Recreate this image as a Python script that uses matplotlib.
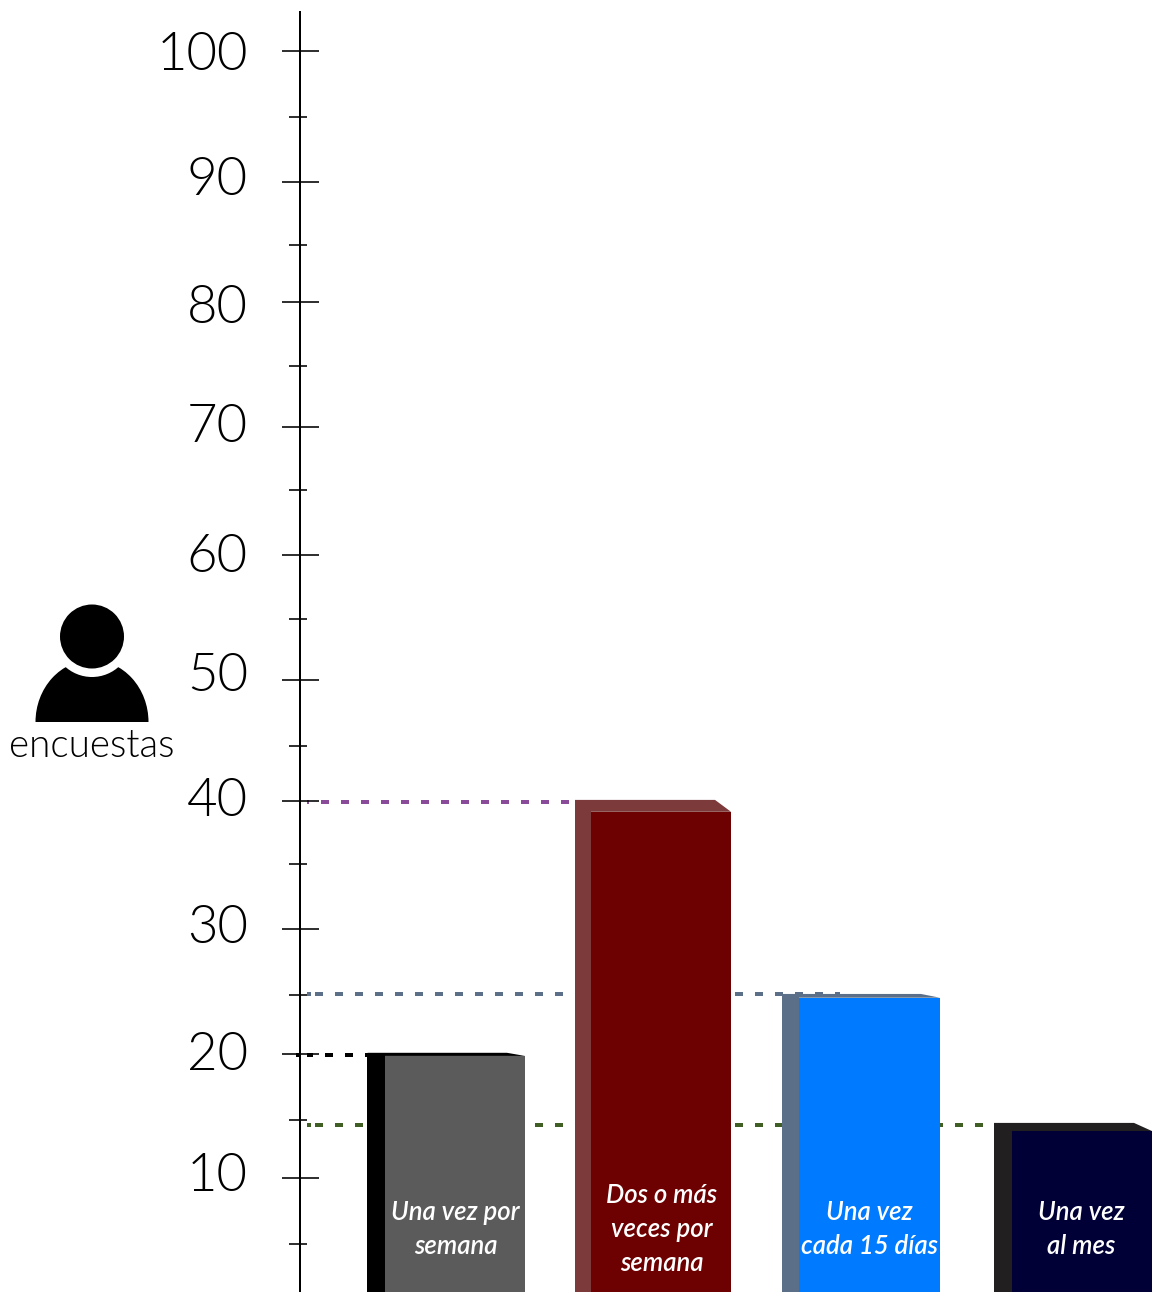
import matplotlib
matplotlib.use("Agg")
import matplotlib.pyplot as plt
from matplotlib import font_manager as fm
from matplotlib.patches import Circle, Ellipse

# survey counts per answer
categories = ["Una vez por\nsemana", "Dos o más\nveces por\nsemana", "Una vez\ncada 15 días", "Una vez\nal mes"]
bar_values = [20.0, 40.2, 24.7, 14.4]
front_values = [19.75, 39.25, 24.4, 13.75]
guide_values = [19.85, 40.05, 24.7, 14.27]

major_ticks = [100.0, 89.55, 79.97, 69.98, 59.76, 49.78, 40.11, 29.89, 19.9, 10.0]
minor_ticks = [94.74, 84.52, 74.86, 64.95, 54.65, 44.5, 35.08, 24.62, 14.63, 4.73]
tick_labels = ["100", "90", "80", "70", "60", "50", "40", "30", "20", "10"]
tick_label_pos = [99.62, 89.71, 79.41, 69.98, 59.6, 50.02, 40.1, 29.89, 19.82, 10.08]

# bar geometry in pixels across the figure
bar_left = [367, 575, 782, 994]
bar_side = [385, 591, 799, 1012]
bar_back = [507, 715, 921, 1134]
bar_right = [525, 731, 940, 1152]
front_colors = ["#5b5b5b", "#6d0000", "#007aff", "#000037"]
side_colors = ["#000000", "#7c3a3a", "#5b7088", "#221f20"]

guide_ends = [367, 575, 840, 985]
guide_colors = ["#000000", "#8a4a9a", "#5b7088", "#3f5f25"]
guide_offsets = [2, 6, 12, 12]
guide_tips = [(296, 300), None, (307, 311), (307, 311)]

label_x = [455.5, 661.5, 869.5, 1081.5]
label_center = 5.9

PX = 0.72  # one pixel in points at dpi 100

# Lato's light cut has to be picked by file, the weight lookup lands on hairline
light_path = [f.fname for f in fm.fontManager.ttflist if f.fname.endswith("Lato-Light.ttf")]
if light_path:
    light = fm.FontProperties(fname=light_path[0])
else:
    light = fm.FontProperties(family="Open Sans", weight=300)

plt.rcParams["lines.scale_dashes"] = False

fig = plt.figure(figsize=(11.7, 12.92), dpi=100)
ax = fig.add_axes([0, 0, 1, 1])
ax.set_xlim(0, 1170)
ax.set_ylim(10 + (1178 - 1292) / 12.52, 10 + 1178 / 12.52)
ax.patch.set_visible(False)

# dashed guides behind the bars
for end, val, col, off, tip in zip(guide_ends, guide_values, guide_colors, guide_offsets, guide_tips):
    ax.plot([307, end], [val, val], color=col, lw=4 * PX, zorder=1,
            linestyle=(off * PX, (8 * PX, 12 * PX)), dash_capstyle="butt")
    if tip:
        ax.plot(tip, [val, val], color=col, lw=4 * PX, zorder=1, solid_capstyle="butt")

for i in range(len(categories)):
    top = bar_values[i]
    front = front_values[i]
    ax.bar(bar_left[i], top, width=bar_side[i] - bar_left[i], align="edge",
           color=side_colors[i], zorder=2)
    ax.fill([bar_left[i], bar_back[i], bar_right[i], bar_side[i]],
            [top, top, front, front], color=side_colors[i], lw=0, zorder=2)
    ax.bar(bar_side[i], front, width=bar_right[i] - bar_side[i], align="edge",
           color=front_colors[i], zorder=3)
    ax.text(label_x[i], label_center, categories[i], color="white", fontsize=18.5,
            family="Lato", style="italic", weight="semibold", ha="center", va="center",
            linespacing=1.44, zorder=4)

# y axis with long and short ticks
for side in ["top", "right", "bottom"]:
    ax.spines[side].set_visible(False)
ax.spines["left"].set_position(("data", 300))
ax.spines["left"].set_linewidth(2 * PX)
ax.spines["left"].set_bounds(ax.get_ylim()[0], 10 + (1178 - 12) / 12.52)
ax.set_xticks([])
ax.set_yticks(major_ticks, labels=[])
ax.tick_params(axis="y", which="major", direction="inout", length=37 * PX, width=1.6 * PX)
ax.hlines(minor_ticks, 289, 307, color="black", lw=1.6 * PX, zorder=5)

for lab, pos in zip(tick_labels, tick_label_pos):
    ax.text(248, pos, lab, fontproperties=light, fontsize=38, ha="right",
            va="center", color="black")

# person icon above the unit label
icon = fig.add_axes([0, 0, 1, 1])
icon.set_xlim(0, 1170)
icon.set_ylim(1292, 0)
icon.axis("off")
icon.add_patch(Ellipse((92, 722), 113, 124, color="black", lw=0))
icon.add_patch(plt.Rectangle((30, 722), 124, 70, color="white", lw=0))
icon.add_patch(Circle((92, 637), 40, color="white", lw=0))
icon.add_patch(Circle((92, 636.5), 32, color="black", lw=0))
icon.text(92, 746, "encuestas", fontproperties=light, fontsize=27.8, ha="center",
          va="center", color="black")

fig.savefig("out.png", dpi=100)
